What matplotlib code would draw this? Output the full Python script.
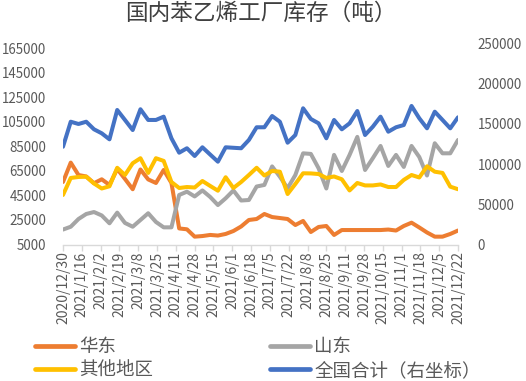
import matplotlib
matplotlib.use("Agg")
import matplotlib.pyplot as plt
import matplotlib.dates as mdates
from matplotlib.ticker import FuncFormatter, FixedLocator
from matplotlib.lines import Line2D
import pandas as pd

plt.rcParams['font.family'] = ['Noto Sans CJK SC', 'DejaVu Sans']

# ---- data ----
dates = pd.date_range('2020-12-30', periods=52, freq='7D')
tick_dates = pd.date_range('2020-12-30', '2021-12-22', freq='17D')

east_china = [56000, 71800, 61700, 60500, 55000, 58200, 53600, 66600, 58500, 50100,
              66200, 58100, 55200, 65800, 55200, 18100, 17400, 11400, 11900, 12800,
              12300, 13600, 16000, 19700, 25000, 25800, 29900, 27400, 26600, 25800,
              20900, 24200, 15200, 19300, 20100, 12800, 16800, 16800, 16800, 16800,
              16800, 16800, 17200, 16400, 20100, 22800, 18900, 14800, 11400, 11400,
              13600, 16400]
shandong = [17200, 19500, 25800, 29900, 31500, 28700, 22300, 31000, 22600, 19500,
            25000, 30500, 23400, 19000, 19000, 45400, 48100, 44200, 49100, 43800,
            37200, 42700, 49100, 40900, 41300, 52300, 53600, 68700, 60300, 50900,
            61700, 79400, 78900, 67200, 50700, 78100, 65000, 78100, 92800, 65800,
            75400, 85400, 69100, 78100, 68300, 85400, 76400, 61300, 87600, 79400,
            79400, 90300]
other_regions = [45400, 59300, 60100, 60300, 54800, 50700, 52500, 67600, 61700, 71300,
                 75400, 63400, 75400, 73200, 56000, 51100, 51900, 51500, 56800, 52800,
                 48900, 59900, 51100, 56000, 61700, 67600, 61300, 65000, 64400, 46200,
                 54400, 63100, 63000, 62500, 59300, 60500, 58200, 49100, 55200, 53200,
                 53200, 54000, 51900, 51900, 57700, 61700, 59700, 68800, 64400, 63400,
                 52200, 50100]
national_total = [121600, 152700, 149900, 152700, 143300, 138300, 130800, 167300, 154900, 142400,
                  168200, 154900, 154900, 159000, 132100, 114200, 119700, 110100, 120900, 111900,
                  103000, 120900, 120300, 119700, 130000, 145800, 145800, 159800, 152700, 126600,
                  136200, 169400, 156100, 150700, 132100, 154900, 143300, 150700, 166000, 136200,
                  146500, 159000, 140300, 145800, 148600, 172300, 157000, 144500, 165200, 154900,
                  144500, 158200]

left_ticks = [5000, 25000, 45000, 65000, 85000, 105000, 125000, 145000, 165000]
right_ticks = [0, 50000, 100000, 150000, 200000, 250000]

labels = ['华东', '山东', '其他地区', '全国合计（右坐标）']
colors = ['#ED7D31', '#A5A5A5', '#FFC000', '#4472C4']

title = '国内苯乙烯工厂库存（吨）'

# ---- figure ----
W, H = 526, 381
fig = plt.figure(figsize=(W / 100, H / 100), dpi=100)
x0, x1, ytop, ybot = 63, 458, 43.5, 244.5
ax = fig.add_axes([x0 / W, 1 - ybot / H, (x1 - x0) / W, (ybot - ytop) / H])
ax2 = ax.twinx()

lw = 2.9
kw = dict(linewidth=lw, solid_joinstyle='round', solid_capstyle='round')
ax.plot(dates, east_china, color=colors[0], **kw)
ax.plot(dates, shandong, color=colors[1], **kw)
ax.plot(dates, other_regions, color=colors[2], **kw)
ax2.plot(dates, national_total, color=colors[3], **kw)

ax.set_xlim(dates[0], dates[-1])
ax.set_ylim(5000, 169000)
ax2.set_ylim(0, 250000)

tick_color = '#595959'
fs_tick = 9.6
ax.yaxis.set_major_locator(FixedLocator(left_ticks))
ax2.yaxis.set_major_locator(FixedLocator(right_ticks))
ax.tick_params(axis='y', length=0, pad=12, labelsize=fs_tick, labelcolor=tick_color)
ax2.tick_params(axis='y', length=0, pad=14, labelsize=fs_tick, labelcolor=tick_color)

ax.xaxis.set_major_locator(FixedLocator(mdates.date2num(tick_dates)))
ax.xaxis.set_major_formatter(FuncFormatter(
    lambda v, p: (lambda d: f"{d.year}/{d.month}/{d.day}")(mdates.num2date(v))))
ax.tick_params(axis='x', length=4, width=1, color='#D9D9D9', direction='out',
               labelsize=10, labelcolor=tick_color, labelrotation=90, pad=1)

for a in (ax, ax2):
    for s in ('top', 'left', 'right', 'bottom'):
        a.spines[s].set_visible(False)
ax.spines['bottom'].set_visible(True)
ax.spines['bottom'].set_color('#D9D9D9')
ax.spines['bottom'].set_linewidth(1)

fig.text(261 / W, 1 - 13 / H, title, ha='center', va='center',
         fontsize=16.3, color='#404040')

# ---- legends (two columns) ----
fs_leg = 13.3
def mk(c):
    return Line2D([], [], color=c, linewidth=3.4, solid_capstyle='round')

leg_kw = dict(loc='center left', frameon=False, fontsize=fs_leg, borderpad=0,
              borderaxespad=0, handlelength=2.15, handletextpad=0.25,
              labelspacing=0.3, labelcolor='#595959')
fig.legend([mk(colors[0]), mk(colors[2])], [labels[0], labels[2]],
           bbox_to_anchor=(35 / W, 1 - 359 / H), **leg_kw)
fig.legend([mk(colors[1]), mk(colors[3])], [labels[1], labels[3]],
           bbox_to_anchor=(270 / W, 1 - 359 / H), **leg_kw)

fig.savefig('out.png', dpi=100)
